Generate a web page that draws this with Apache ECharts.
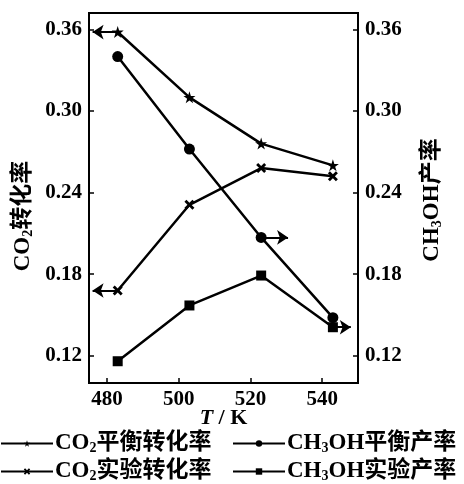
<!DOCTYPE html>
<html><head><meta charset="utf-8">
<script src="https://cdn.jsdelivr.net/npm/echarts@6/dist/echarts.min.js"></script>
<style>html,body{margin:0;padding:0;background:#fff}#c{width:464px;height:484px}</style>
</head><body><div id="c"></div>
<script>
// ---- data ----
var temperatures = [483, 503, 523, 543];
var co2Equilibrium = [0.358, 0.310, 0.276, 0.260];
var co2Experimental = [0.168, 0.231, 0.258, 0.252];
var ch3ohEquilibrium = [0.340, 0.272, 0.207, 0.148];
var ch3ohExperimental = [0.116, 0.157, 0.179, 0.141];
var xTicks = [480, 500, 520, 540];
var yTicks = [0.12, 0.18, 0.24, 0.30, 0.36];
var seriesNames = ['CO₂平衡转化率', 'CO₂实验转化率', 'CH₃OH平衡产率', 'CH₃OH实验产率'];
// arrow end temperatures (point to the axis used)
var arrowEnds = [476, 476, 530.5, 548];

var STAR = 'path://M5,0 L6.2,3.6 L10,3.6 L6.9,5.9 L8.1,9.5 L5,7.3 L1.9,9.5 L3.1,5.9 L0,3.6 L3.8,3.6 Z';
var CROSS = 'path://M0,2 L2,0 L5,3 L8,0 L10,2 L7,5 L10,8 L8,10 L5,7 L2,10 L0,8 L3,5 Z';

var serif = '"Liberation Serif","Times New Roman",serif';
var cjk = '"Liberation Serif","Noto Sans CJK SC",serif';

function pairs(ys){ return temperatures.map(function(t,i){return [t, ys[i]];}); }
function arrow(ys, idx, endT){
  return {
    silent: true, symbol: ['none','arrow'], symbolSize: 11,
    lineStyle: {color:'#000', width: 2, type:'solid'},
    itemStyle: {color:'#000'},
    label: {show:false},
    data: [[{coord:[temperatures[idx], ys[idx]]},{coord:[endT, ys[idx]]}]]
  };
}
var richLegend = {
  b: {fontFamily: cjk, fontSize: 23, fontWeight: 'bold', color:'#000', lineHeight: 24},
  s: {fontFamily: serif, fontSize: 14, fontWeight: 'bold', color:'#000', lineHeight: 24, padding:[9,0,0,0]}
};
function legendFmt(name){
  return name.replace(/(CO|CH)([₂₃])(.*)/, function(m, a, d, rest){
    var dig = d === '₂' ? '2' : '3';
    return '{b|' + a + '}{s|' + dig + '}{b|' + rest + '}';
  });
}
function mkLegend(name, left, top){
  return {
    left: left, top: top, orient: 'horizontal', padding: 0, itemWidth: 52, itemHeight: 8,
    data: [name], formatter: legendFmt,
    textStyle: {rich: richLegend, padding:[0,0,0,-3]}
  };
}
function mkSeries(name, ys, sym, size, yIdx, arr){
  return {
    name: name, type: 'line', yAxisIndex: yIdx, data: pairs(ys),
    symbol: sym, symbolSize: size, showSymbol: true,
    lineStyle: {color:'#000', width: 2.5},
    itemStyle: {color:'#000'},
    markLine: arr
  };
}
var axisFont = {fontFamily: serif, fontSize: 21, fontWeight: 'bold', color:'#000'};
var nameRich = {s: {fontFamily: serif, fontSize: 14, fontWeight:'bold', color:'#000', padding:[9,0,0,0]}};
var option = {
  backgroundColor: '#fff',
  animation: false,
  grid: {left: 89, right: 106, top: 13, bottom: 101, show: true, borderColor:'#000', borderWidth: 2, backgroundColor:'transparent'},
  xAxis: {
    type: 'value', min: 475, max: 550,
    name: '{i|T}{n| / K}', nameLocation: 'middle', nameGap: 24, nameMoveOverlap: false,
    nameTextStyle: {rich: {i: {fontFamily: serif, fontSize: 22, fontWeight:'bold', fontStyle:'italic', color:'#000'}, n: {fontFamily: serif, fontSize: 22, fontWeight:'bold', color:'#000'}}},
    axisLine: {lineStyle:{color:'#000', width:2}},
    axisTick: {inside: true, length: 5, customValues: xTicks, lineStyle:{color:'#000', width:1.5}},
    axisLabel: Object.assign({customValues: xTicks, margin: 6}, axisFont),
    splitLine: {show:false}
  },
  yAxis: [{
    type: 'value', min: 0.10, max: 0.372, position: 'left',
    name: 'CO{s|2}转化率', nameLocation: 'middle', nameRotate: 90, nameGap: 54, nameMoveOverlap: false,
    nameTextStyle: {fontFamily: cjk, fontSize: 23, fontWeight:'bold', color:'#000', padding:[0,36,0,0], rich: nameRich},
    axisLine: {show: true, lineStyle:{color:'#000', width:2}},
    axisTick: {show: true, inside: true, length: 5, customValues: yTicks, lineStyle:{color:'#000', width:1.5}},
    axisLabel: Object.assign({customValues: yTicks, margin: 7, formatter: function(v){return v.toFixed(2);}}, axisFont),
    splitLine: {show:false}
  },{
    type: 'value', min: 0.10, max: 0.372, position: 'right',
    name: 'CH{s|3}OH产率', nameLocation: 'middle', nameRotate: 90, nameGap: 63, nameMoveOverlap: false,
    nameTextStyle: {fontFamily: cjk, fontSize: 23, fontWeight:'bold', color:'#000', padding:[0,4,0,0], rich: nameRich},
    axisLine: {show: true, lineStyle:{color:'#000', width:2}},
    axisTick: {show: true, inside: true, length: 5, customValues: yTicks, lineStyle:{color:'#000', width:1.5}},
    axisLabel: Object.assign({customValues: yTicks, margin: 7, formatter: function(v){return v.toFixed(2);}}, axisFont),
    splitLine: {show:false}
  }],
  legend: [
    mkLegend(seriesNames[0], 0, 432),
    mkLegend(seriesNames[1], 0, 460),
    mkLegend(seriesNames[2], 232, 432),
    mkLegend(seriesNames[3], 232, 460)
  ],
  series: [
    mkSeries(seriesNames[0], co2Equilibrium, STAR, 12, 0, arrow(co2Equilibrium, 0, arrowEnds[0])),
    mkSeries(seriesNames[1], co2Experimental, CROSS, 10, 0, arrow(co2Experimental, 0, arrowEnds[1])),
    mkSeries(seriesNames[2], ch3ohEquilibrium, 'circle', 11, 1, arrow(ch3ohEquilibrium, 2, arrowEnds[2])),
    mkSeries(seriesNames[3], ch3ohExperimental, 'rect', 10, 1, arrow(ch3ohExperimental, 3, arrowEnds[3]))
  ]
};
var chart = echarts.init(document.getElementById('c'), null, {renderer:'canvas'});
chart.setOption(option);
</script></body></html>
